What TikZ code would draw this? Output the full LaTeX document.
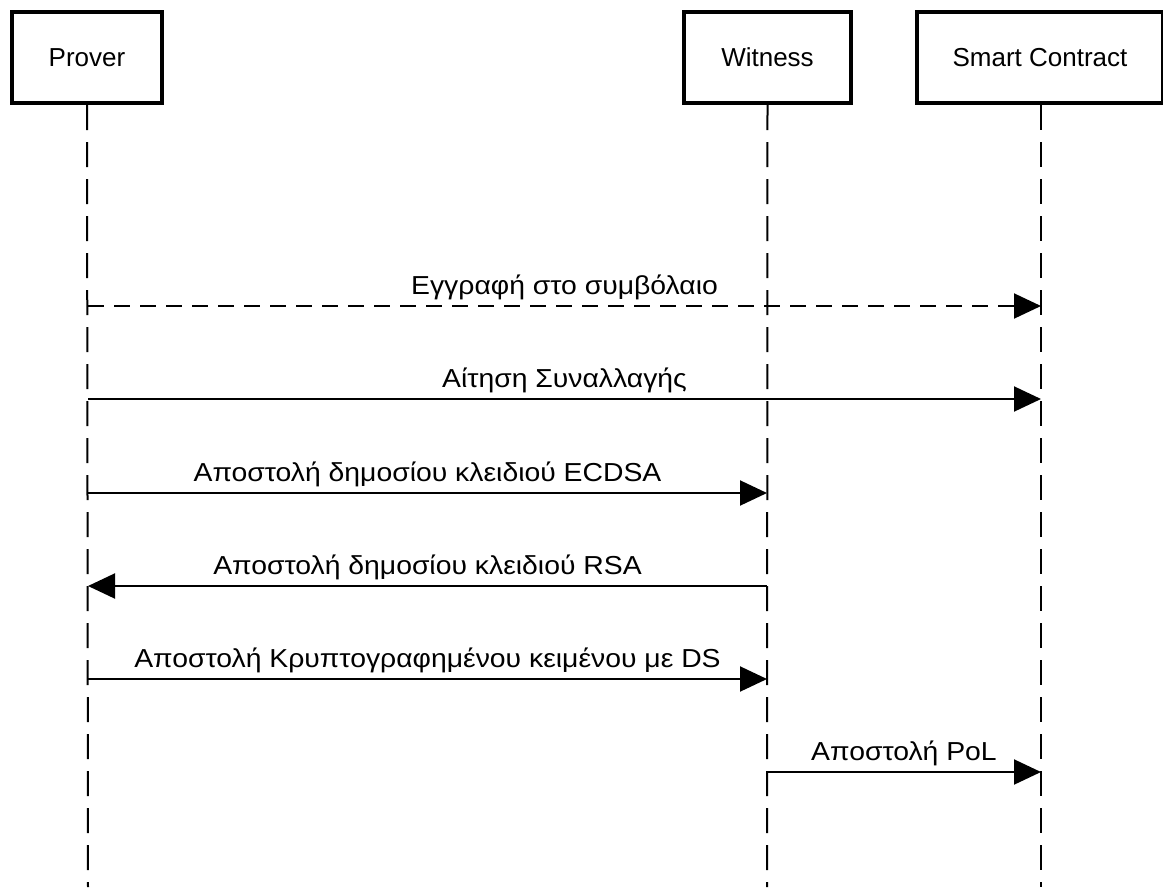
\documentclass[tikz,border=0pt]{standalone}
\usepackage{fontspec}
\setmainfont{Liberation Sans}
\newfontfamily\msgfont[FakeStretch=1.09]{Liberation Sans}
\usetikzlibrary{arrows.meta}
\begin{document}
\begin{tikzpicture}[x=1pt,y=-1pt,
  actor/.style={draw, line width=4pt, minimum height=91pt, inner sep=0pt,
    font=\fontsize{26}{30}\selectfont},
  lifeline/.style={line width=2pt, dash pattern=on 25pt off 12pt},
  msg/.style={line width=2pt, -{Triangle[length=27pt,width=25pt]}},
  async/.style={msg, dash pattern=on 16pt off 10pt},
  lbl/.style={anchor=base, inner sep=0pt, yshift=12pt,
    font=\msgfont\fontsize{26}{30}\selectfont}]
  \useasboundingbox (0,0) rectangle (1163,887);

  % participants
  \node[actor, minimum width=150pt] (prover)   at (87,57.5)    {Prover};
  \node[actor, minimum width=167pt] (witness)  at (767.5,57.5) {Witness};
  \node[actor, minimum width=246pt] (contract) at (1040,57.5)  {Smart Contract};

  % lifeline feet
  \coordinate (pend) at (88,887);
  \coordinate (wend) at (767,887);
  \coordinate (cend) at (1041,887);
  \draw[lifeline] (prover.south)   -- (pend);
  \draw[lifeline] (witness.south)  -- (wend);
  \draw[lifeline] (contract.south -| cend) -- (cend);

  % message end points on the lifelines
  \foreach \n/\y in {1/306,2/399,3/493,4/586,5/679,6/772}{
    \coordinate (p\n) at (88,\y);
    \coordinate (w\n) at (767,\y);
    \coordinate (c\n) at (1041,\y);
  }

  % messages
  \draw[async] (p1) -- node[lbl] (m1) {Εγγραφή στο συμβόλαιο} (c1);
  \draw[msg] (p2) -- node[lbl] (m2) {Αίτηση Συναλλαγής} (c2);
  \draw[msg] (p3) -- node[lbl] (m3) {Αποστολή δημοσίου κλειδιού ECDSA} (w3);
  \draw[msg] (w4) -- node[lbl] (m4) {Αποστολή δημοσίου κλειδιού RSA} (p4);
  \draw[msg] (p5) -- node[lbl] (m5) {Αποστολή Κρυπτογραφημένου κειμένου με DS} (w5);
  \draw[msg] (w6) -- node[lbl] (m6) {Αποστολή PoL} (c6);
\end{tikzpicture}
\end{document}
